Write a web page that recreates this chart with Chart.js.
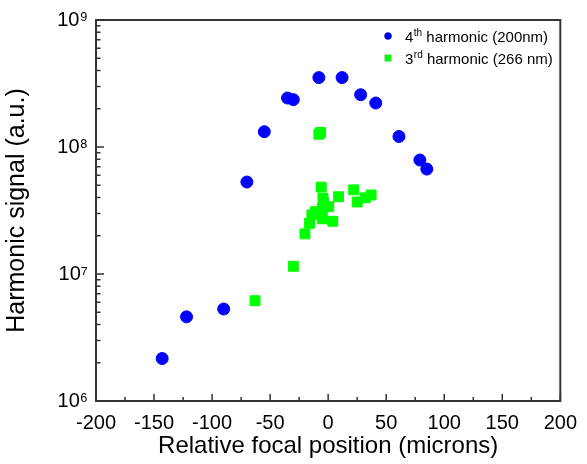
<!DOCTYPE html>
<html>
<head>
<meta charset="utf-8">
<script src="https://cdn.jsdelivr.net/npm/chart.js@4/dist/chart.umd.min.js"></script>
<style>
  html, body { margin: 0; padding: 0; background: #fff; }
  #wrap { width: 587px; height: 464px; }
</style>
</head>
<body>
<div id="wrap"><canvas id="c" width="587" height="464"></canvas></div>
<script>
// 4th harmonic (200nm)
const harm4X = [-143, -122, -90, -70, -55, -35, -30, -8, 12, 28, 41, 61, 79, 85];
const harm4Y = [2.16e6, 4.6e6, 5.3e6, 5.3e7, 1.32e8, 2.43e8, 2.36e8, 3.52e8, 3.52e8, 2.58e8, 2.22e8, 1.21e8, 7.9e7, 6.7e7];

// 3rd harmonic (266 nm)
const harm3X = [-63, -30, -20, -16, -14, -11, -8, -6.5, -6, -5, -5, -4.5, -4, 0.5, 4, 9, 22, 25, 32, 37];
const harm3Y = [6.16e6, 1.15e7, 2.07e7, 2.51e7, 2.92e7, 3.1e7, 1.26e8, 1.3e8, 4.83e7, 2.72e7, 3.29e7, 3.94e7, 3.64e7, 3.39e7, 2.6e7, 4.06e7, 4.6e7, 3.69e7, 3.98e7, 4.19e7];

const xMajor = [-200, -150, -100, -50, 0, 50, 100, 150, 200];
const xMinor = [-175, -125, -75, -25, 25, 75, 125, 175];
const yDecades = [1e6, 1e7, 1e8, 1e9];

const FONT = "'Liberation Sans', Arial, sans-serif";
const AXIS = '#333';
const SUP = { 6: '\u2076', 7: '\u2077', 8: '\u2078', 9: '\u2079' };

const toPts = (xs, ys) => xs.map((x, i) => ({ x, y: ys[i] }));

// frame, inward ticks and the legend
const framePlugin = {
  id: 'frame',
  afterDraw(chart) {
    const { ctx, chartArea: a, scales } = chart;
    const xs = scales.x, ys = scales.y;
    ctx.save();
    ctx.strokeStyle = AXIS;
    ctx.lineWidth = 1.5;
    ctx.beginPath();
    xMajor.forEach(v => { const px = xs.getPixelForValue(v); ctx.moveTo(px, a.bottom); ctx.lineTo(px, a.bottom - 7); });
    xMinor.forEach(v => { const px = xs.getPixelForValue(v); ctx.moveTo(px, a.bottom); ctx.lineTo(px, a.bottom - 4); });
    yDecades.forEach(d => {
      const py = ys.getPixelForValue(d);
      ctx.moveTo(a.left, py); ctx.lineTo(a.left + 8, py);
      if (d < 1e9) {
        for (let k = 2; k <= 9; k++) {
          const pm = ys.getPixelForValue(d * k);
          ctx.moveTo(a.left, pm); ctx.lineTo(a.left + 4.5, pm);
        }
      }
    });
    ctx.stroke();
    ctx.lineWidth = 2;
    ctx.strokeRect(a.left, a.top, a.right - a.left, a.bottom - a.top);

    // legend
    const ds = chart.data.datasets;
    const rows = [
      { y: 36, base: 41.5, num: '4', sup: 'th', rest: ' harmonic (200nm)', style: ds[0] },
      { y: 58, base: 63.5, num: '3', sup: 'rd', rest: ' harmonic (266 nm)', style: ds[1] }
    ];
    rows.forEach(r => {
      Chart.helpers.drawPoint(ctx, {
        pointStyle: r.style.pointStyle,
        radius: r.style.pointStyle === 'rect' ? 4.5 : 3.5,
        borderWidth: 0
      }, 388, r.y);
      ctx.fillStyle = r.style.backgroundColor;
      ctx.fill();
      ctx.fillStyle = '#000';
      ctx.textBaseline = 'alphabetic';
      ctx.textAlign = 'left';
      let x = 405;
      ctx.font = '15px ' + FONT;
      ctx.fillText(r.num, x, r.base);
      x += ctx.measureText(r.num).width + 0.5;
      ctx.font = '10px ' + FONT;
      ctx.fillText(r.sup, x, r.base - 6);
      x += ctx.measureText(r.sup).width;
      ctx.font = '15px ' + FONT;
      ctx.fillText(r.rest, x, r.base);
    });
    ctx.restore();
  }
};

new Chart(document.getElementById('c'), {
  type: 'scatter',
  data: {
    datasets: [
      {
        label: '4th harmonic (200nm)',
        data: toPts(harm4X, harm4Y),
        pointStyle: 'circle',
        pointRadius: 6,
        borderWidth: 1,
        backgroundColor: '#0000ff',
        borderColor: '#0000ff'
      },
      {
        label: '3rd harmonic (266 nm)',
        data: toPts(harm3X, harm3Y),
        pointStyle: 'rect',
        pointRadius: 7,
        borderWidth: 1,
        backgroundColor: '#00ff00',
        borderColor: '#00ff00'
      }
    ]
  },
  options: {
    responsive: false,
    animation: false,
    layout: { padding: { top: 17, right: 18, left: 0, bottom: 0 } },
    plugins: { legend: { display: false }, tooltip: { enabled: false } },
    scales: {
      x: {
        type: 'linear',
        min: -200,
        max: 200,
        afterFit: s => { s.height = 63; },
        afterBuildTicks: s => { s.ticks = xMajor.map(v => ({ value: v })); },
        grid: { display: false, drawTicks: false },
        border: { display: false },
        ticks: { color: '#000', padding: 10, font: { family: FONT, size: 20 }, maxRotation: 0 },
        title: {
          display: true,
          text: 'Relative focal position (microns)',
          color: '#000',
          font: { family: FONT, size: 24 },
          padding: { top: 0, bottom: 3 }
        }
      },
      y: {
        type: 'logarithmic',
        min: 1e6,
        max: 1e9,
        afterFit: s => { s.width = 96; },
        afterBuildTicks: s => { s.ticks = yDecades.map(v => ({ value: v })); },
        grid: { display: false, drawTicks: false },
        border: { display: false },
        ticks: {
          color: '#000',
          padding: 8,
          font: { family: FONT, size: 20 },
          callback: v => '10' + SUP[Math.round(Math.log10(v))]
        },
        title: {
          display: true,
          text: 'Harmonic signal (a.u.)',
          color: '#000',
          font: { family: FONT, size: 25 },
          padding: { top: 2, bottom: 0 }
        }
      }
    }
  },
  plugins: [framePlugin]
});
</script>
</body>
</html>
